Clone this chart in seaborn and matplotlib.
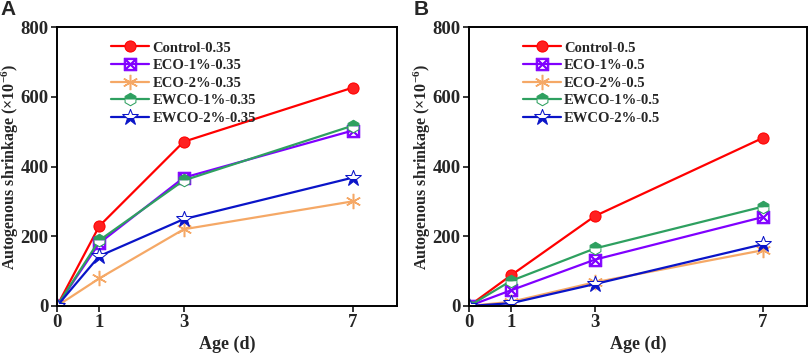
import numpy as np
import pandas as pd
import matplotlib
matplotlib.use("Agg")
import matplotlib.pyplot as plt
import seaborn as sns

ages = [0, 1, 3, 7]
labels_a = ["Control-0.35", "ECO-1%-0.35", "ECO-2%-0.35", "EWCO-1%-0.35", "EWCO-2%-0.35"]
labels_b = ["Control-0.5", "ECO-1%-0.5", "ECO-2%-0.5", "EWCO-1%-0.5", "EWCO-2%-0.5"]

control_a = [0, 229, 471, 626]
eco1_a = [0, 180, 368, 503]
eco2_a = [0, 79, 220, 300]
ewco1_a = [0, 188, 360, 517]
ewco2_a = [0, 143, 249, 368]

control_b = [0, 88, 258, 482]
eco1_b = [0, 45, 133, 255]
eco2_b = [0, 12, 68, 160]
ewco1_b = [0, 72, 165, 285]
ewco2_b = [0, 8, 63, 177]

sns.set_theme(style="ticks")
plt.rcParams['font.family'] = ['Liberation Serif', 'DejaVu Serif']
plt.rcParams['font.weight'] = 'bold'
plt.rcParams['mathtext.fontset'] = 'custom'
plt.rcParams['mathtext.rm'] = 'Liberation Serif:bold'
plt.rcParams['mathtext.bf'] = 'Liberation Serif:bold'
plt.rcParams['mathtext.it'] = 'Liberation Serif:bold'

colors = ["#FF0000", "#8000FF", "#F5A866", "#2EA060", "#0A14C8"]
styles = [
    dict(marker='o', markersize=8, markerfacecolor="#FF2020", markeredgecolor="#FF0000"),
    dict(marker='$\\boxtimes$', markersize=9),
    dict(marker=(6, 2, 0), markersize=11, markeredgewidth=1.1),
    dict(marker='h', markersize=9, fillstyle='top', markerfacecoloralt='white'),
    dict(marker='*', markersize=12, fillstyle='bottom', markerfacecoloralt='white'),
]

fig = plt.figure(figsize=(8.09, 3.57), dpi=100)
W, H = 809.0, 357.0
ax_a = fig.add_axes([57 / W, 1 - 306 / H, (397 - 57) / W, (306 - 27) / H])
ax_b = fig.add_axes([469 / W, 1 - 306 / H, (807 - 469) / W, (306 - 27) / H])

for ax, series, labels, letter in [
    (ax_a, [control_a, eco1_a, eco2_a, ewco1_a, ewco2_a], labels_a, "A"),
    (ax_b, [control_b, eco1_b, eco2_b, ewco1_b, ewco2_b], labels_b, "B"),
]:
    for vals, lab, c, st in zip(series, labels, colors, styles):
        kw = dict(st)
        kw.setdefault('markeredgecolor', c)
        kw.setdefault('markerfacecolor', c)
        sns.lineplot(x=ages, y=vals, ax=ax, color=c, linewidth=1.6, label=lab, **kw)
    ax.set_xlim(0, 8.05)
    ax.set_ylim(0, 800)
    ax.set_xticks([0, 1, 3, 7])
    ax.set_yticks([0, 200, 400, 600, 800])
    ax.tick_params(axis='both', direction='out', length=4, width=1.3, labelsize=13.5, pad=2)
    for t in ax.get_xticklabels() + ax.get_yticklabels():
        t.set_fontweight('bold')
    for s in ax.spines.values():
        s.set_linewidth(1.4)
        s.set_color('black')
    ax.set_xlabel("Age (d)", fontsize=13, fontweight='bold', labelpad=3)
    ax.set_ylabel(r"Autogenous shrinkage (×10$^{-6}$)", fontsize=11.5, fontweight='bold')
    ax.yaxis.set_label_coords(-0.106, 0.5)
    ax.legend(loc='upper left', bbox_to_anchor=(0.13, 0.985), frameon=False,
              prop={'family': 'Liberation Serif', 'weight': 'bold', 'size': 10.5},
              handlelength=2.6, labelspacing=0.3, handletextpad=0.2, borderaxespad=0.3)
    ax.text(-0.165, 1.095, letter, transform=ax.transAxes, fontsize=15, fontweight='bold',
            family='Liberation Sans', va='top', ha='left')

fig.savefig("out.png", dpi=100)
